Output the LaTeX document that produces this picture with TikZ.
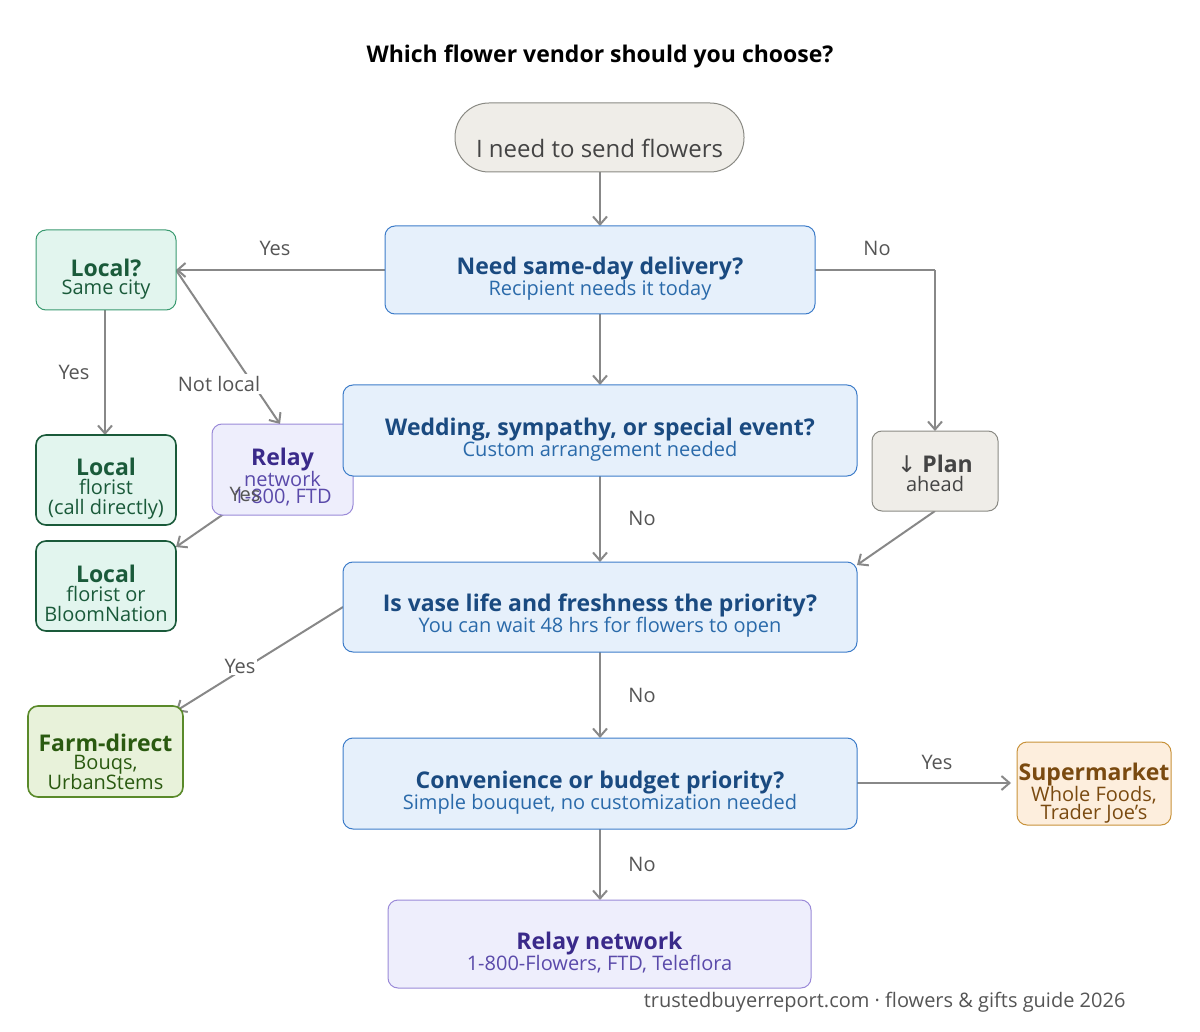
\documentclass[tikz,border=0pt]{standalone}
\usepackage{fontspec}
\setmainfont{Open Sans}
\newfontfamily\arr{DejaVu Sans}
\usetikzlibrary{arrows.meta}
\definecolor{edge}{HTML}{888888}
\definecolor{lbl}{HTML}{555555}
\definecolor{bfill}{HTML}{E6F0FB}\definecolor{bdraw}{HTML}{3D7CC9}
\definecolor{btit}{HTML}{1A4A80}\definecolor{bsub}{HTML}{2A6AAA}
\definecolor{gfill}{HTML}{E2F5EE}\definecolor{gdraw}{HTML}{3A9A70}\definecolor{gtit}{HTML}{1A5A3A}
\definecolor{pfill}{HTML}{EEEEFC}\definecolor{pdraw}{HTML}{9A8AD8}\definecolor{ptit}{HTML}{3A2A8A}\definecolor{psub}{HTML}{5A4AAA}
\definecolor{nfill}{HTML}{EFEDE8}\definecolor{ndraw}{HTML}{8A8A84}\definecolor{ntxt}{HTML}{444444}
\definecolor{lfill}{HTML}{E8F2DA}\definecolor{ldraw}{HTML}{5A8A2A}\definecolor{ltit}{HTML}{2A5A10}
\definecolor{ofill}{HTML}{FDEEDD}\definecolor{odraw}{HTML}{C8923A}\definecolor{otit}{HTML}{7A4A10}
\newcommand{\myT}{\fontsize{23}{18}\selectfont\bfseries}
\newcommand{\myS}{\fontsize{20}{18}\selectfont}
\newcommand{\cell}[2][9pt]{\raisebox{-#1}[\height][\depth]{\begin{tabular}{@{}c@{}}#2\end{tabular}}}
\renewcommand{\arraystretch}{0.9}
\tikzset{
 box/.style={rounded corners=10pt,line width=1pt,inner sep=0pt,align=center},
 blue/.style={box,fill=bfill,draw=bdraw,text=bsub},
 grn/.style={box,fill=gfill,draw=gdraw,text=gtit},
 ed/.style={draw=edge,line width=2pt,-{Straight Barb[length=8pt,width=14pt,line width=2pt]}},
 lab/.style={text=lbl,font=\fontsize{20}{22}\selectfont,fill=white,inner sep=2pt},
}
\begin{document}
\begin{tikzpicture}[x=1pt,y=-1pt]
\useasboundingbox (0,0) rectangle (1200,1032);
\node[font=\fontsize{23}{24}\selectfont\bfseries] (title) at (600,56) {Which flower vendor should you choose?};
\node[anchor=east,text=lbl,font=\fontsize{20}{22}\selectfont] (foot) at (1129,1002) {trustedbuyerreport.com · flowers \& gifts guide 2026};
\coordinate (c1) at (176,270);
\coordinate (c2) at (935,270);
% edges
\draw[ed] (600,172) -- (600,226);
\draw[ed] (385,270) -- (c1);
\node[lab,fill=none] at (275,248) {Yes};
\draw[draw=edge,line width=2pt] (815,270) -- (c2);
\draw[ed] (c2) -- (935,431);
\node[lab,fill=none] at (877,248) {No};
\draw[ed] (105,310) -- (105,435);
\node[lab] at (74,372) {Yes};
\draw[ed] (c1) -- (280,424);
\node[lab] at (219,384) {Not local};
\draw[ed] (600,314) -- (600,385);
\draw[ed] (342,432) -- (176,547);
\draw[ed] (600,476) -- (600,562);
\node[lab,fill=none] at (642,518) {No};
\draw[ed] (935,511) -- (857,565);
\draw[ed] (343,607) -- (176,711);
\node[lab] at (240,666) {Yes};
\draw[ed] (600,652) -- (600,738);
\node[lab,fill=none] at (642,695) {No};
\draw[ed] (857,783) -- (1011,783);
\node[lab,fill=none] at (937,762) {Yes};
\draw[ed] (600,829) -- (600,900);
\node[lab,fill=none] at (642,864) {No};
% nodes
\node[box,fill=nfill,draw=ndraw,rounded corners=34pt,minimum width=289pt,minimum height=69pt,text=ntxt,font=\fontsize{24}{24}\selectfont] (start) at (599.5,137.5) {\raisebox{-11pt}[\height][\depth]{I need to send flowers}};
\node[blue,minimum width=430pt,minimum height=88pt] (q1) at (600,270) {\cell{{\color{btit}\myT Need same-day delivery?}\\{\myS Recipient needs it today}}};
\node[grn,minimum width=140pt,minimum height=80pt] (loc) at (106,270) {\cell{{\myT Local?}\\{\myS Same city}}};
\node[box,fill=pfill,draw=pdraw,text=psub,minimum width=141pt,minimum height=91pt] (relay) at (282.5,469.5) {\cell[8pt]{{\color{ptit}\myT Relay}\\{\myS network}\\{\myS 1-800, FTD}}};
\node[blue,minimum width=514pt,minimum height=91pt] (q2) at (600,430.5) {\cell{{\color{btit}\myT Wedding, sympathy, or special event?}\\{\myS Custom arrangement needed}}};
\node[text=lbl,font=\fontsize{20}{22}\selectfont,inner sep=0pt] (yes2) at (245,494) {Yes};
\node[grn,draw=gtit,line width=1.6pt,minimum width=140pt,minimum height=90pt] (lf) at (106,480) {\cell{{\myT Local}\\{\myS florist}\\[2pt]{\myS (call directly)}}};
\node[grn,draw=gtit,line width=1.6pt,minimum width=140pt,minimum height=90pt] (lb) at (106,586) {\cell{{\myT Local}\\{\myS florist or}\\[2pt]{\myS BloomNation}}};
\node[box,fill=nfill,draw=ndraw,text=ntxt,minimum width=126pt,minimum height=80pt] (plan) at (935,471) {\cell[4pt]{{\myT{\arr\mdseries ↓} Plan}\\{\myS ahead}}};
\node[blue,minimum width=514pt,minimum height=90pt] (q3) at (600,607) {\cell{{\color{btit}\myT Is vase life and freshness the priority?}\\{\myS You can wait 48 hrs for flowers to open}}};
\node[box,fill=lfill,draw=ldraw,text=ltit,line width=1.6pt,minimum width=155pt,minimum height=91pt] (farm) at (105.5,751.5) {\cell[12pt]{{\myT Farm-direct}\\{\myS Bouqs,}\\{\myS UrbanStems}}};
\node[box,fill=ofill,draw=odraw,text=otit,minimum width=154pt,minimum height=83pt] (sup) at (1094,783.5) {\renewcommand{\arraystretch}{0.8}\cell[10pt]{{\myT Supermarket}\\{\myS Whole Foods,}\\{\myS Trader Joe's}}};
\node[blue,minimum width=514pt,minimum height=91pt] (q4) at (600,783.5) {\cell{{\color{btit}\myT Convenience or budget priority?}\\{\myS Simple bouquet, no customization needed}}};
\node[box,fill=pfill,draw=pdraw,text=psub,minimum width=423pt,minimum height=88pt] (rf) at (599.5,944) {\cell{{\color{ptit}\myT Relay network}\\{\myS 1-800-Flowers, FTD, Teleflora}}};
\end{tikzpicture}
\end{document}
